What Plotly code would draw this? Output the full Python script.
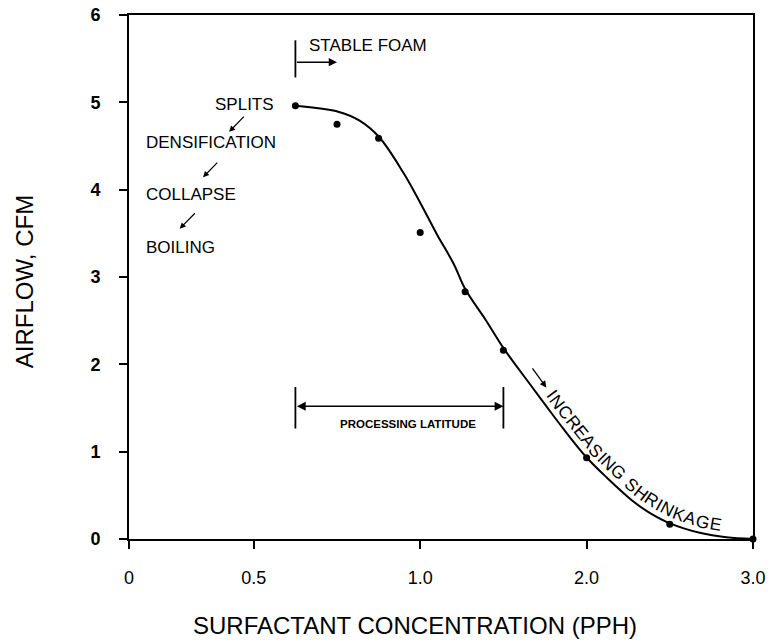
import numpy as np
import plotly.graph_objects as go

# ---------------- data ----------------
x_tick_values = [0, 0.5, 1.0, 2.0, 3.0]
x_tick_labels = ["0", "0.5", "1.0", "2.0", "3.0"]
x_tick_display = [0, 0.75, 1.75, 2.75, 3.75]   # the original axis is piecewise-scaled

y_tick_values = [0, 1, 2, 3, 4, 5, 6]

conc_points = [0.625, 0.75, 0.875, 1.0, 1.27, 1.5, 2.0, 2.5, 3.0]
airflow_points = [4.96, 4.75, 4.59, 3.51, 2.83, 2.16, 0.93, 0.17, 0.0]

curve_conc = [0.625, 0.756, 0.818, 0.877, 0.95, 1.0, 1.10, 1.20, 1.274, 1.388, 1.51,
              1.66, 1.76, 1.86, 1.999, 2.119, 2.279, 2.379, 2.505, 2.68, 2.84, 3.0]
curve_airflow = [4.96, 4.89, 4.79, 4.60, 4.19, 3.85, 3.49, 3.155, 2.85, 2.525, 2.16,
                 1.772, 1.515, 1.263, 0.936, 0.707, 0.432, 0.30, 0.176, 0.071, 0.019, 0.0]


def xd(v):
    """map concentration (PPH) onto the piecewise axis scale"""
    return np.interp(v, x_tick_values, x_tick_display)


# ---------------- layout geometry ----------------
W, H = 768, 641
L, R, T, B = 129, 15, 15, 102
PW, PH = W - L - R, H - T - B
XR = x_tick_display[-1]
YMAX = 6.0

FONT = "Liberation Sans, Arial, Helvetica, sans-serif"

fig = go.Figure()

fig.add_trace(go.Scatter(
    x=xd(curve_conc), y=curve_airflow, mode="lines",
    line=dict(color="black", width=2, shape="spline", smoothing=1.0),
    hoverinfo="skip", showlegend=False, cliponaxis=False))

fig.add_trace(go.Scatter(
    x=xd(conc_points), y=airflow_points, mode="markers",
    marker=dict(color="black", size=7),
    showlegend=False, cliponaxis=False))

ann = []
shapes = []


def text(x, y, s, size=17, xanchor="left", weight="normal", angle=0):
    ann.append(dict(x=xd(x), y=y, xref="x", yref="y", text=s, showarrow=False,
                    xanchor=xanchor, yanchor="middle", textangle=angle,
                    font=dict(family=FONT, size=size, color="black", weight=weight)))


def arrow(x0, y0, x1, y1, head=2, size=1.0, width=1.5, side="end"):
    ann.append(dict(x=xd(x1), y=y1, ax=xd(x0), ay=y0, xref="x", yref="y",
                    axref="x", ayref="y", text="", showarrow=True,
                    arrowhead=head, arrowsize=size, arrowwidth=width,
                    arrowcolor="black", arrowside=side, startarrowhead=head,
                    startarrowsize=size))


def vline(x, y0, y1, width=1.8):
    shapes.append(dict(type="line", xref="x", yref="y", x0=xd(x), x1=xd(x),
                       y0=y0, y1=y1, line=dict(color="black", width=width)))


# STABLE FOAM
vline(0.625, 5.285, 5.71)
arrow(0.625, 5.46, 0.75, 5.46, head=2, size=1.1, width=1.5)
text(0.66, 5.65, "STABLE FOAM", size=17)

# left-side failure modes
text(0.566, 4.98, "SPLITS", size=17, xanchor="right")
text(0.059, 4.545, "DENSIFICATION", size=17)
text(0.059, 3.944, "COLLAPSE", size=17)
text(0.059, 3.342, "BOILING", size=17)
arrow(0.466, 4.853, 0.401, 4.662, head=2, size=1.0, width=1.2)
arrow(0.3594, 4.327, 0.2965, 4.141, head=2, size=1.0, width=1.2)
arrow(0.270, 3.747, 0.203, 3.552, head=2, size=1.0, width=1.2)

# PROCESSING LATITUDE
vline(0.625, 1.265, 1.74)
vline(1.5, 1.265, 1.74)
arrow(0.625, 1.52, 1.5, 1.52, head=2, size=1.1, width=1.6, side="end+start")
text(0.963, 1.32, "PROCESSING LATITUDE", size=11.5, xanchor="center", weight="bold")

# increasing shrinkage arrow
arrow(1.668, 1.97, 1.758, 1.735, head=2, size=1.0, width=1.3)


# ---- curved label "INCREASING SHRINKAGE" placed letter by letter along the curve ----
def to_px(xv, yv):
    return L + np.asarray(xv) / XR * PW, T + (YMAX - np.asarray(yv)) / YMAX * PH


def to_data(px, py):
    return (px - L) / PW * XR, YMAX - (py - T) / PH * YMAX


cx, cy = to_px(xd(curve_conc), curve_airflow)
dx_, dy_ = [], []
for i in range(len(cx) - 1):
    t = np.linspace(0, 1, 25, endpoint=False)
    dx_.extend(cx[i] + (cx[i + 1] - cx[i]) * t)
    dy_.extend(cy[i] + (cy[i + 1] - cy[i]) * t)
dx_.append(cx[-1]); dy_.append(cy[-1])
px_ = np.array(dx_); py_ = np.array(dy_)
seg = np.hypot(np.diff(px_), np.diff(py_))
s = np.concatenate([[0], np.cumsum(seg)])


def pos(sv):
    return np.interp(sv, s, px_), np.interp(sv, s, py_)


OFF = 11.5
ss = np.linspace(0, s[-1], 1500)
ox, oy = [], []
for sv in ss:
    x0, y0 = pos(sv)
    xa, ya = pos(max(sv - 10, 0)); xb, yb = pos(min(sv + 10, s[-1]))
    tx, ty = xb - xa, yb - ya
    n = np.hypot(tx, ty)
    tx, ty = tx / n, ty / n
    ox.append(x0 + OFF * ty); oy.append(y0 - OFF * tx)
ox = np.array(ox); oy = np.array(oy)
os_ = np.concatenate([[0], np.cumsum(np.hypot(np.diff(ox), np.diff(oy)))])

start = np.argmin(np.hypot(ox - 553.3, oy - 393.3))
s_cur = os_[start]
label = "INCREASING SHRINKAGE"
FS = 17.5
widths = {"I": .278, "N": .722, "C": .722, "R": .722, "E": .667, "A": .667,
          "S": .667, "G": .778, " ": .278, "H": .722, "K": .667}
prev_w = None
for ch in label:
    w = widths[ch] * FS * 1.03
    if prev_w is not None:
        s_cur += (prev_w + w) / 2
    prev_w = w
    if ch == " ":
        continue
    x0 = np.interp(s_cur, os_, ox); y0 = np.interp(s_cur, os_, oy)
    xa = np.interp(s_cur - 8, os_, ox); ya = np.interp(s_cur - 8, os_, oy)
    xb = np.interp(s_cur + 8, os_, ox); yb = np.interp(s_cur + 8, os_, oy)
    ang = np.degrees(np.arctan2(yb - ya, xb - xa))
    dxv, dyv = to_data(x0, y0)
    ann.append(dict(x=dxv, y=dyv, xref="x", yref="y", text=ch, showarrow=False,
                    xanchor="center", yanchor="middle", textangle=float(ang),
                    font=dict(family=FONT, size=FS, color="black")))

# axis titles
ann.append(dict(x=0.4588, y=-0.1655, xref="paper", yref="paper",
                text="SURFACTANT CONCENTRATION (PPH)", showarrow=False,
                xanchor="center", yanchor="middle",
                font=dict(family=FONT, size=24, color="black")))
ann.append(dict(x=-0.1683, y=0.492, xref="paper", yref="paper",
                text="AIRFLOW, CFM", showarrow=False, textangle=-90,
                xanchor="center", yanchor="middle",
                font=dict(family=FONT, size=24, color="black")))

fig.update_layout(
    width=W, height=H,
    margin=dict(l=L, r=R, t=T, b=B, autoexpand=False),
    paper_bgcolor="white", plot_bgcolor="white",
    annotations=ann, shapes=shapes, showlegend=False,
    xaxis=dict(range=[0, XR], tickvals=x_tick_display, ticktext=x_tick_labels,
               automargin=False,
               showgrid=False, zeroline=False, showline=True, mirror=True,
               linecolor="black", linewidth=2, ticks="outside", ticklen=8,
               tickwidth=2, tickcolor="black", ticklabelstandoff=13,
               tickfont=dict(family=FONT, size=18, color="black")),
    yaxis=dict(range=[0, YMAX], tickvals=y_tick_values, automargin=False,
               showgrid=False, zeroline=False, showline=True, mirror=True,
               linecolor="black", linewidth=2, ticks="outside", ticklen=8,
               tickwidth=2, tickcolor="black", ticklabelstandoff=15,
               tickfont=dict(family=FONT, size=18, color="black", weight="bold")),
)

fig.write_html(
    "out.html",
    config={"displayModeBar": False},
    post_script="document.body.style.margin='0';document.body.style.overflow='hidden';",
)
